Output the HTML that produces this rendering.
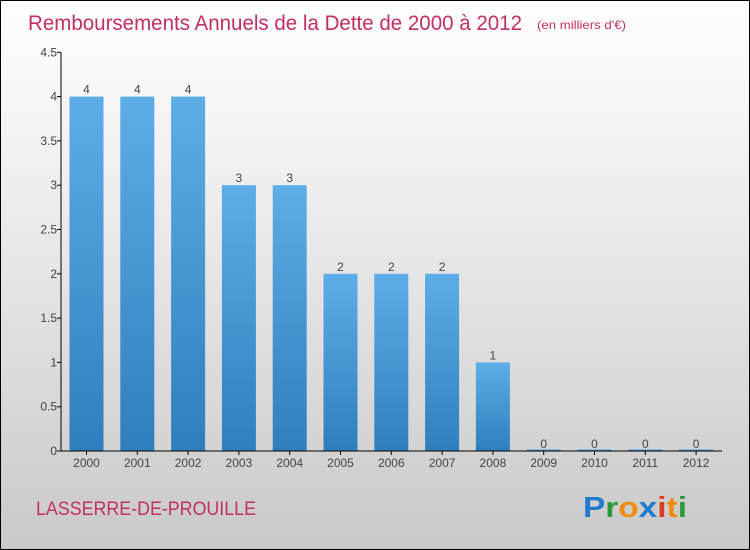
<!DOCTYPE html>
<html><head><meta charset="utf-8"><style>
body{margin:0}
#c{width:750px;height:550px;position:relative;box-sizing:border-box;border:1px solid #000;background:linear-gradient(#fefefe,#f0f0f0 30%,#c9c9c9);font-family:"Liberation Sans",sans-serif;overflow:hidden}
</style></head><body>
<div id="c">
<svg width="750" height="550" id="s">
<defs><linearGradient id="g" x1="0" y1="0" x2="0" y2="1"><stop offset="0" stop-color="#5dade6"/><stop offset="1" stop-color="#2f7fbe"/></linearGradient></defs>
<text x="27" y="29" font-size="21" fill="#c2305f" textLength="494" lengthAdjust="spacingAndGlyphs">Remboursements Annuels de la Dette de 2000 à 2012</text>
<text x="536" y="28" font-size="12" fill="#c2305f" textLength="89" lengthAdjust="spacingAndGlyphs">(en milliers d'€)</text>
<text x="35" y="514" font-size="19" fill="#c2305f" textLength="220" lengthAdjust="spacingAndGlyphs">LASSERRE-DE-PROUILLE</text>
<g font-size="29" font-weight="bold"><text x="582" y="516" textLength="104" lengthAdjust="spacingAndGlyphs" fill="#1f7ad0">P<tspan fill="#2a9a3a">r</tspan><tspan fill="#f08a10">o</tspan><tspan fill="#1f7ad0">x</tspan><tspan fill="#e03a20">i</tspan><tspan fill="#f08a10">t</tspan><tspan fill="#2a9a3a">i</tspan></text></g>
<g id="plot"></g>
</svg>
</div>
<script>
const years=["2000","2001","2002","2003","2004","2005","2006","2007","2008","2009","2010","2011","2012"];
const values=[4,4,4,3,3,2,2,2,1,0,0,0,0];
const yTicks=[0,0.5,1,1.5,2,2.5,3,3.5,4,4.5];
const ns="http://www.w3.org/2000/svg";
const p=document.getElementById('plot');
const y0=450,unit=88.6,x0=85.5,step=50.8,bw=34;
const ys=v=>y0-v*unit, xs=i=>x0+i*step;
function mk(t,a){const e=document.createElementNS(ns,t);for(const k in a)e.setAttribute(k,a[k]);p.appendChild(e);return e;}
yTicks.forEach(t=>{
 const l=mk('line',{x1:56,x2:60,y1:ys(t),y2:ys(t),stroke:'#000'});
 
 
 const tx=mk('text',{x:56,y:ys(t)+4,'text-anchor':'end','font-size':12,fill:'#444'});tx.textContent=t;
 
 
});
values.forEach((v,i)=>{
 const h=Math.max(v*unit,1.5);
 const r=mk('rect',{x:xs(i)-bw/2,y:y0-h,width:bw,height:h,fill:'url(#g)'});
 
 
 const vl=mk('text',{x:xs(i),y:ys(v)-3,'text-anchor':'middle','font-size':12,fill:'#444'});vl.textContent=v;
 
 
 const tk=mk('line',{x1:xs(i),x2:xs(i),y1:y0,y2:y0+4,stroke:'#000'});
 
 
 const xl=mk('text',{x:xs(i),y:y0+16,'text-anchor':'middle','font-size':12,fill:'#444'});xl.textContent=years[i];
 
 
});
const ya=mk('line',{x1:60,x2:60,y1:ys(4.5),y2:y0,stroke:'#000'});


const xa=mk('line',{x1:60,x2:721,y1:y0,y2:y0,stroke:'#000'});


</script>
</body></html>
